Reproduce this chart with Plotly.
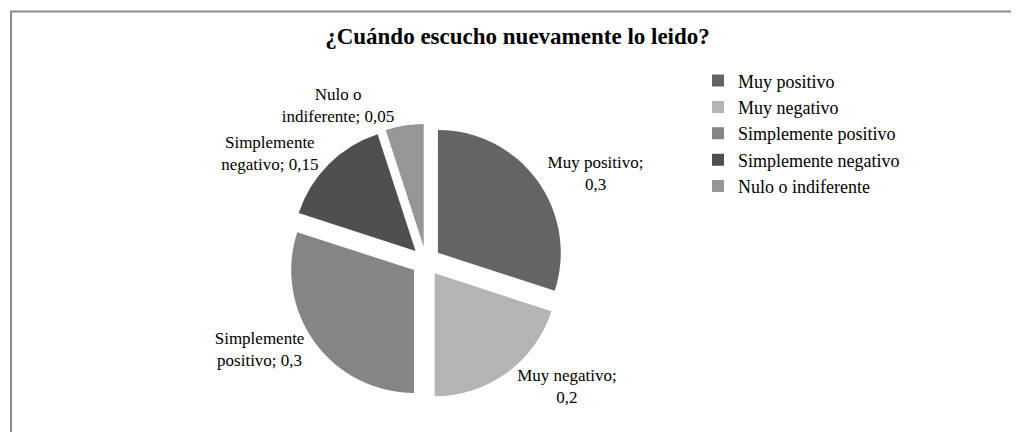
import plotly.graph_objects as go

categories = ["Muy positivo", "Muy negativo", "Simplemente positivo",
              "Simplemente negativo", "Nulo o indiferente"]
values = [0.3, 0.2, 0.3, 0.15, 0.05]
label_prefix = ["Muy positivo;<br>", "Muy negativo;<br>", "Simplemente<br>positivo; ",
                "Simplemente<br>negativo; ", "Nulo o<br>indiferente; "]
colors = ["#646464", "#b4b4b4", "#858585", "#4f4f4f", "#969696"]
title_text = "¿Cuándo escucho nuevamente lo leido?"

texts = [p + str(v).replace(".", ",") for p, v in zip(label_prefix, values)]

W, H = 1019, 432
cx, cy, half = 418, 280, 152

fig = go.Figure(go.Pie(
    labels=categories,
    values=values,
    text=texts,
    textinfo="text",
    textposition="outside",
    sort=False,
    direction="clockwise",
    rotation=0,
    pull=[0.12] * 5,
    marker=dict(colors=colors, line=dict(width=0)),
    textfont=dict(family="Liberation Serif", size=17, color="#000000"),
    domain=dict(x=[(cx - half) / W, (cx + half) / W],
                y=[1 - (cy + half) / H, 1 - (cy - half) / H]),
    hoverinfo="label+value",
))

fig.update_layout(
    width=W, height=H,
    margin=dict(l=0, r=0, t=0, b=0),
    paper_bgcolor="white",
    plot_bgcolor="white",
    title=dict(text="<b>" + title_text + "</b>", x=0.5, xanchor="center",
               y=1 - 28 / H, yanchor="middle", yref="container",
               font=dict(family="Liberation Serif", size=23, color="#000000")),
    legend=dict(x=690 / W, y=1 - 60 / H, xanchor="left", yanchor="top",
                font=dict(family="Liberation Serif", size=18, color="#000000"),
                bgcolor="rgba(0,0,0,0)", tracegroupgap=0),
    shapes=[dict(type="rect", xref="paper", yref="paper",
                 x0=3 / W, x1=1016 / W, y0=-0.5, y1=1 - 4 / H,
                 line=dict(color="#8c8c8c", width=2), fillcolor="rgba(0,0,0,0)",
                 layer="below")],
)

fig.write_html("out.html")
